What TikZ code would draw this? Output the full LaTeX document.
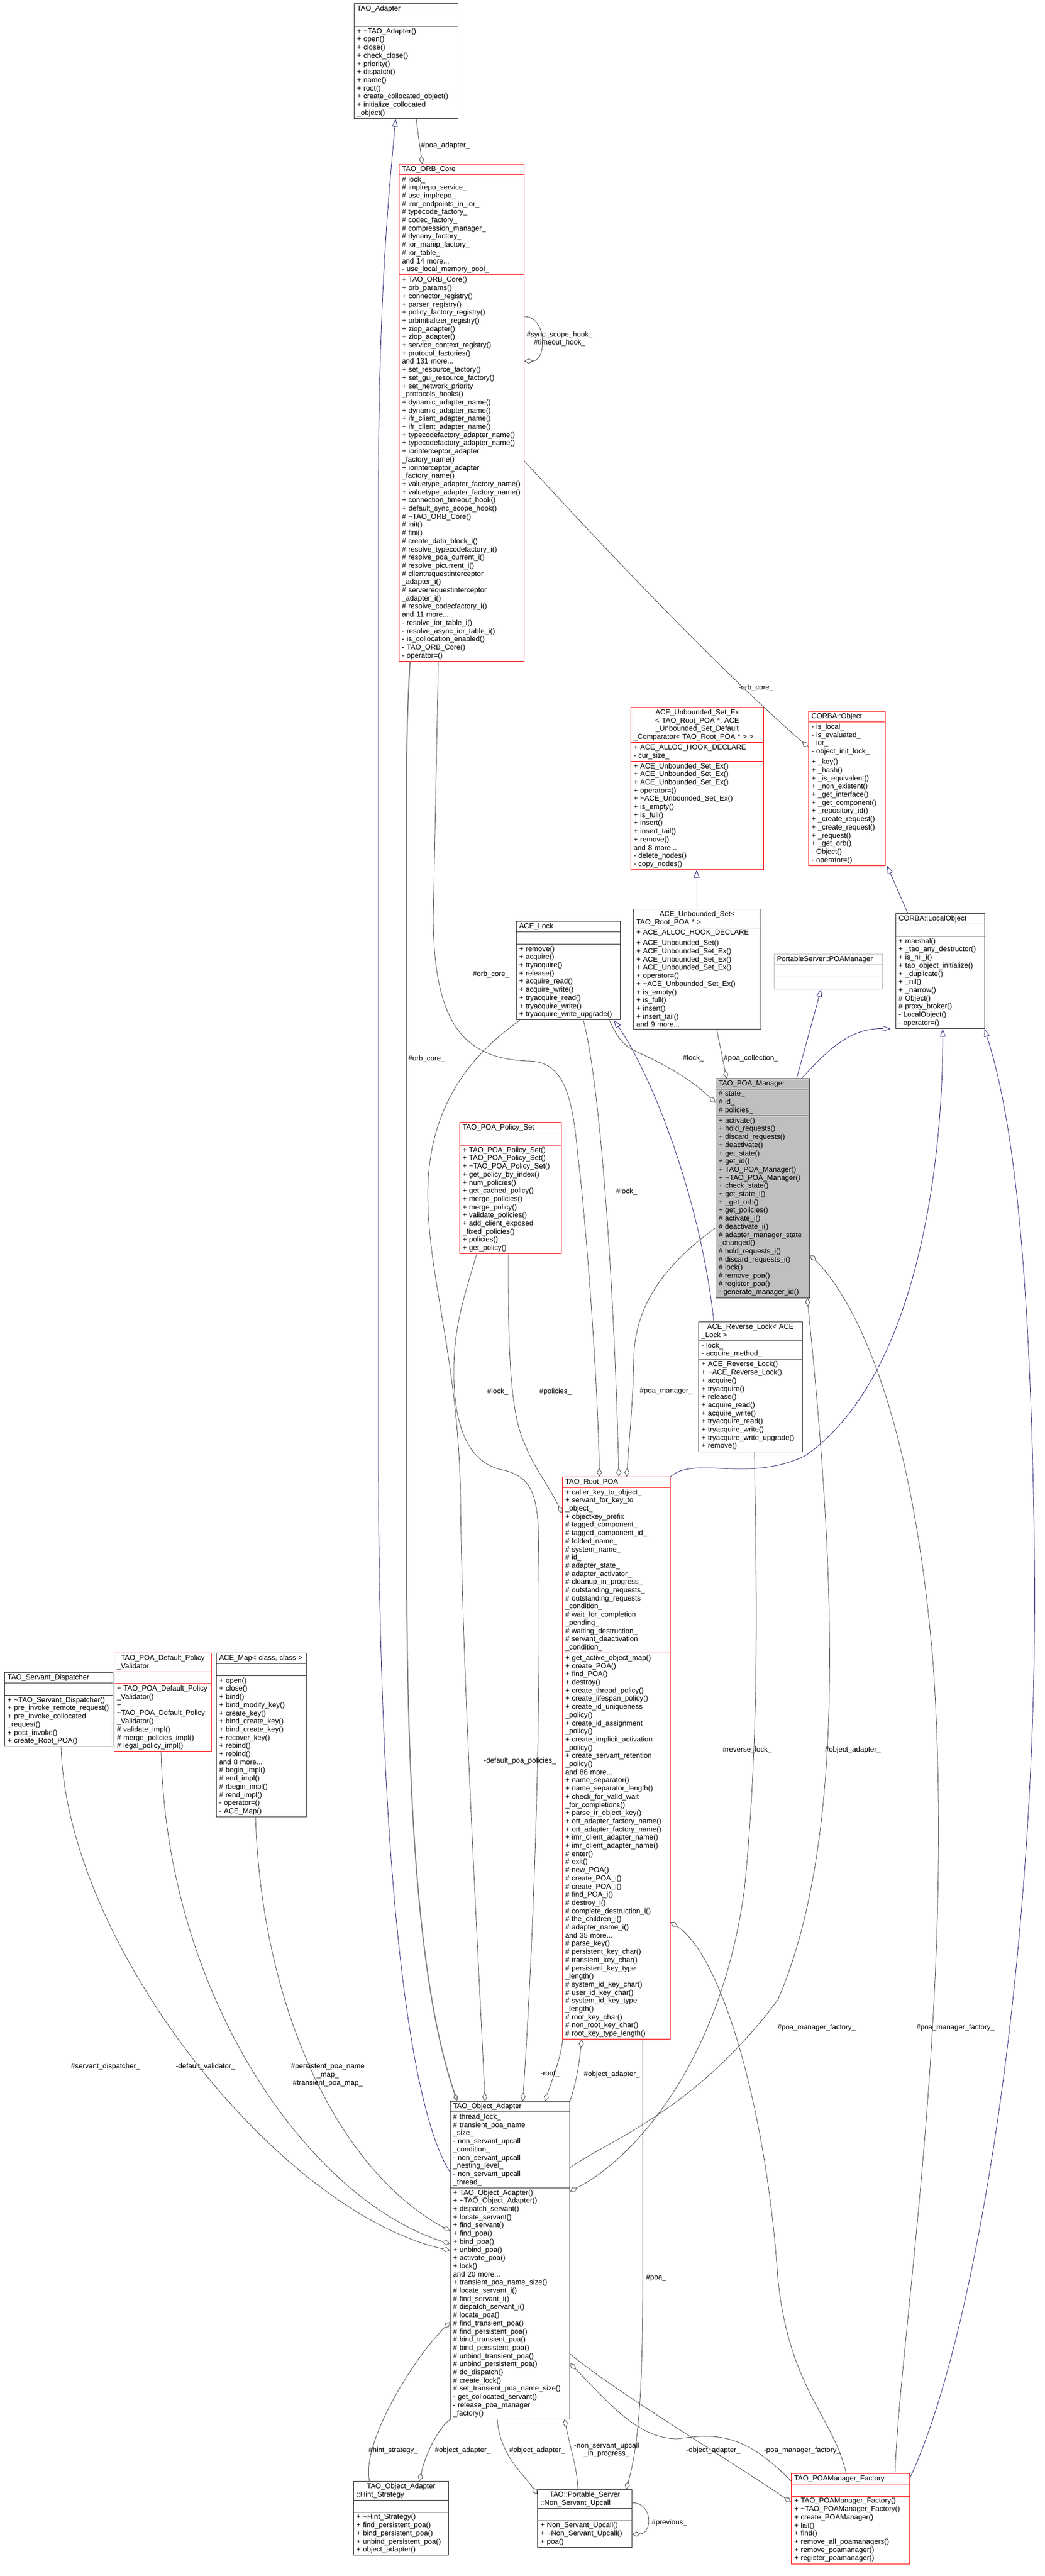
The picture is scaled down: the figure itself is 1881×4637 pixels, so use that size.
\documentclass[tikz,border=0pt]{standalone}
\usepackage{fontspec}
\setmainfont{Liberation Sans}
\usetikzlibrary{arrows.meta, shapes.multipart, positioning}
\definecolor{inhblue}{RGB}{25,25,112}
\definecolor{agggray}{RGB}{64,64,64}
\definecolor{boxred}{RGB}{255,0,0}
\definecolor{mgrgray}{RGB}{191,191,191}
\newcommand{\dfont}{\fontsize{13}{14.7}\selectfont}
\newcommand{\dtor}{\textasciitilde}
\tikzset{
  cls/.style={rectangle split, rectangle split parts=3, draw=black!80, line width=1pt,
    text width=#1, inner xsep=5pt, inner ysep=3pt, anchor=north west, font=\dfont, align=left},
  redcls/.style={cls=#1, draw=boxred},
  inh/.style={draw=inhblue, line width=0.8pt, -{Triangle[open,length=14pt,width=10pt]}},
  agg/.style={draw=agggray, line width=0.8pt, {Diamond[open,length=15pt,width=9pt]}-},
  thickagg/.style={agg, line width=2pt, draw=gray},
  lbl/.style={font=\dfont, align=center, inner sep=1pt}
}
\begin{document}
\catcode`\_=12
\begin{tikzpicture}[x=1pt,y=-1pt]
\useasboundingbox (0,0) rectangle (1881,4637);

% classes, top part
\node[cls=177pt] (adapter) at (637,6) {\centering TAO_Adapter
  \nodepart{two}\strut
  \nodepart{three}+ \dtor TAO_Adapter()\\+ open()\\+ close()\\+ check_close()\\+ priority()\\+ dispatch()\\+ name()\\+ root()\\+ create_collocated_object()\\+ initialize_collocated\\_object()};

\node[redcls=215pt] (orbcore) at (718,295) {\centering TAO_ORB_Core
  \nodepart{two}\# lock_\\\# implrepo_service_\\\# use_implrepo_\\\# imr_endpoints_in_ior_\\\# typecode_factory_\\\# codec_factory_\\\# compression_manager_\\\# dynany_factory_\\\# ior_manip_factory_\\\# ior_table_\\and 14 more...\\- use_local_memory_pool_
  \nodepart{three}+ TAO_ORB_Core()\\+ orb_params()\\+ connector_registry()\\+ parser_registry()\\+ policy_factory_registry()\\+ orbinitializer_registry()\\+ ziop_adapter()\\+ ziop_adapter()\\+ service_context_registry()\\+ protocol_factories()\\and 131 more...\\+ set_resource_factory()\\+ set_gui_resource_factory()\\+ set_network_priority\\_protocols_hooks()\\+ dynamic_adapter_name()\\+ dynamic_adapter_name()\\+ ifr_client_adapter_name()\\+ ifr_client_adapter_name()\\+ typecodefactory_adapter_name()\\+ typecodefactory_adapter_name()\\+ iorinterceptor_adapter\\_factory_name()\\+ iorinterceptor_adapter\\_factory_name()\\+ valuetype_adapter_factory_name()\\+ valuetype_adapter_factory_name()\\+ connection_timeout_hook()\\+ default_sync_scope_hook()\\\# \dtor TAO_ORB_Core()\\\# init()\\\# fini()\\\# create_data_block_i()\\\# resolve_typecodefactory_i()\\\# resolve_poa_current_i()\\\# resolve_picurrent_i()\\\# clientrequestinterceptor\\_adapter_i()\\\# serverrequestinterceptor\\_adapter_i()\\\# resolve_codecfactory_i()\\and 11 more...\\- resolve_ior_table_i()\\- resolve_async_ior_table_i()\\- is_collocation_enabled()\\- TAO_ORB_Core()\\- operator=()};

\node[redcls=229pt] (setex) at (1135,1273) {\centering ACE_Unbounded_Set_Ex\\< TAO_Root_POA *, ACE\\_Unbounded_Set_Default\\_Comparator< TAO_Root_POA * > >
  \nodepart{two}+ ACE_ALLOC_HOOK_DECLARE\\- cur_size_
  \nodepart{three}+ ACE_Unbounded_Set_Ex()\\+ ACE_Unbounded_Set_Ex()\\+ ACE_Unbounded_Set_Ex()\\+ operator=()\\+ \dtor ACE_Unbounded_Set_Ex()\\+ is_empty()\\+ is_full()\\+ insert()\\+ insert_tail()\\+ remove()\\and 8 more...\\- delete_nodes()\\- copy_nodes()};

\node[cls=219pt] (aceset) at (1140,1636) {\centering ACE_Unbounded_Set<\\ TAO_Root_POA * >
  \nodepart{two}+ ACE_ALLOC_HOOK_DECLARE
  \nodepart{three}+ ACE_Unbounded_Set()\\+ ACE_Unbounded_Set_Ex()\\+ ACE_Unbounded_Set_Ex()\\+ ACE_Unbounded_Set_Ex()\\+ operator=()\\+ \dtor ACE_Unbounded_Set_Ex()\\+ is_empty()\\+ is_full()\\+ insert()\\+ insert_tail()\\and 9 more...};

\node[redcls=128pt] (corbaobj) at (1455,1280) {\centering CORBA::Object
  \nodepart{two}- is_local_\\- is_evaluated_\\- ior_\\- object_init_lock_
  \nodepart{three}+ _key()\\+ _hash()\\+ _is_equivalent()\\+ _non_existent()\\+ _get_interface()\\+ _get_component()\\+ _repository_id()\\+ _create_request()\\+ _create_request()\\+ _request()\\+ _get_orb()\\- Object()\\- operator=()};

\node[cls=150pt] (localobj) at (1612,1644) {\centering CORBA::LocalObject
  \nodepart{two}\strut
  \nodepart{three}+ marshal()\\+ _tao_any_destructor()\\+ is_nil_i()\\+ tao_object_initialize()\\+ _duplicate()\\+ _nil()\\+ _narrow()\\\# Object()\\\# proxy_broker()\\- LocalObject()\\- operator=()};

\node[cls=185pt, draw=mgrgray] (poamgrif) at (1393,1717) {\centering PortableServer::POAManager
  \nodepart{two}\strut
  \nodepart{three}\strut};

\node[cls=159pt, fill=mgrgray] (poamgr) at (1288,1941) {\centering TAO_POA_Manager
  \nodepart{two}\# state_\\\# id_\\\# policies_
  \nodepart{three}+ activate()\\+ hold_requests()\\+ discard_requests()\\+ deactivate()\\+ get_state()\\+ get_id()\\+ TAO_POA_Manager()\\+ \dtor TAO_POA_Manager()\\+ check_state()\\+ get_state_i()\\+ _get_orb()\\+ get_policies()\\\# activate_i()\\\# deactivate_i()\\\# adapter_manager_state\\_changed()\\\# hold_requests_i()\\\# discard_requests_i()\\\# lock()\\\# remove_poa()\\\# register_poa()\\- generate_manager_id()};

\node[cls=177pt] (acelock) at (929,1658) {\centering ACE_Lock
  \nodepart{two}\strut
  \nodepart{three}+ remove()\\+ acquire()\\+ tryacquire()\\+ release()\\+ acquire_read()\\+ acquire_write()\\+ tryacquire_read()\\+ tryacquire_write()\\+ tryacquire_write_upgrade()};

\node[redcls=173pt] (policyset) at (827,2020) {\centering TAO_POA_Policy_Set
  \nodepart{two}\strut
  \nodepart{three}+ TAO_POA_Policy_Set()\\+ TAO_POA_Policy_Set()\\+ \dtor TAO_POA_Policy_Set()\\+ get_policy_by_index()\\+ num_policies()\\+ get_cached_policy()\\+ merge_policies()\\+ merge_policy()\\+ validate_policies()\\+ add_client_exposed\\_fixed_policies()\\+ policies()\\+ get_policy()};

\node[cls=177pt] (revlock) at (1257,2379) {\centering ACE_Reverse_Lock< ACE\\_Lock >
  \nodepart{two}- lock_\\- acquire_method_
  \nodepart{three}+ ACE_Reverse_Lock()\\+ \dtor ACE_Reverse_Lock()\\+ acquire()\\+ tryacquire()\\+ release()\\+ acquire_read()\\+ acquire_write()\\+ tryacquire_read()\\+ tryacquire_write()\\+ tryacquire_write_upgrade()\\+ remove()};

\node[redcls=184pt] (rootpoa) at (1012,2658) {\centering TAO_Root_POA
  \nodepart{two}+ caller_key_to_object_\\+ servant_for_key_to\\_object_\\+ objectkey_prefix\\\# tagged_component_\\\# tagged_component_id_\\\# folded_name_\\\# system_name_\\\# id_\\\# adapter_state_\\\# adapter_activator_\\\# cleanup_in_progress_\\\# outstanding_requests_\\\# outstanding_requests\\_condition_\\\# wait_for_completion\\_pending_\\\# waiting_destruction_\\\# servant_deactivation\\_condition_
  \nodepart{three}+ get_active_object_map()\\+ create_POA()\\+ find_POA()\\+ destroy()\\+ create_thread_policy()\\+ create_lifespan_policy()\\+ create_id_uniqueness\\_policy()\\+ create_id_assignment\\_policy()\\+ create_implicit_activation\\_policy()\\+ create_servant_retention\\_policy()\\and 86 more...\\+ name_separator()\\+ name_separator_length()\\+ check_for_valid_wait\\_for_completions()\\+ parse_ir_object_key()\\+ ort_adapter_factory_name()\\+ ort_adapter_factory_name()\\+ imr_client_adapter_name()\\+ imr_client_adapter_name()\\\# enter()\\\# exit()\\\# new_POA()\\\# create_POA_i()\\\# create_POA_i()\\\# find_POA_i()\\\# destroy_i()\\\# complete_destruction_i()\\\# the_children_i()\\\# adapter_name_i()\\and 35 more...\\\# parse_key()\\\# persistent_key_char()\\\# transient_key_char()\\\# persistent_key_type\\_length()\\\# system_id_key_char()\\\# user_id_key_char()\\\# system_id_key_type\\_length()\\\# root_key_char()\\\# non_root_key_char()\\\# root_key_type_length()};

% classes, left column
\node[cls=185pt] (dispatcher) at (8,3010) {\centering TAO_Servant_Dispatcher
  \nodepart{two}\strut
  \nodepart{three}+ \dtor TAO_Servant_Dispatcher()\\+ pre_invoke_remote_request()\\+ pre_invoke_collocated\\_request()\\+ post_invoke()\\+ create_Root_POA()};

\node[redcls=165pt] (validator) at (205,2975) {\centering TAO_POA_Default_Policy\\_Validator
  \nodepart{two}\strut
  \nodepart{three}+ TAO_POA_Default_Policy\\_Validator()\\+ \dtor TAO_POA_Default_Policy\\_Validator()\\\# validate_impl()\\\# merge_policies_impl()\\\# legal_policy_impl()};

\node[cls=152pt] (acemap) at (389,2975) {\centering ACE_Map< class, class >
  \nodepart{two}\strut
  \nodepart{three}+ open()\\+ close()\\+ bind()\\+ bind_modify_key()\\+ create_key()\\+ bind_create_key()\\+ bind_create_key()\\+ recover_key()\\+ rebind()\\+ rebind()\\and 8 more...\\\# begin_impl()\\\# end_impl()\\\# rbegin_impl()\\\# rend_impl()\\- operator=()\\- ACE_Map()};

% classes, bottom part
\node[cls=205pt] (objadapter) at (810,3782) {\centering TAO_Object_Adapter
  \nodepart{two}\# thread_lock_\\\# transient_poa_name\\_size_\\- non_servant_upcall\\_condition_\\- non_servant_upcall\\_nesting_level_\\- non_servant_upcall\\_thread_
  \nodepart{three}+ TAO_Object_Adapter()\\+ \dtor TAO_Object_Adapter()\\+ dispatch_servant()\\+ locate_servant()\\+ find_servant()\\+ find_poa()\\+ bind_poa()\\+ unbind_poa()\\+ activate_poa()\\+ lock()\\and 20 more...\\+ transient_poa_name_size()\\\# locate_servant_i()\\\# find_servant_i()\\\# dispatch_servant_i()\\\# locate_poa()\\\# find_transient_poa()\\\# find_persistent_poa()\\\# bind_transient_poa()\\\# bind_persistent_poa()\\\# unbind_transient_poa()\\\# unbind_persistent_poa()\\\# do_dispatch()\\\# create_lock()\\\# set_transient_poa_name_size()\\- get_collocated_servant()\\- release_poa_manager\\_factory()};

\node[cls=161pt] (hint) at (636,4466) {\centering TAO_Object_Adapter\\::Hint_Strategy
  \nodepart{two}\strut
  \nodepart{three}+ \dtor Hint_Strategy()\\+ find_persistent_poa()\\+ bind_persistent_poa()\\+ unbind_persistent_poa()\\+ object_adapter()};

\node[cls=160pt] (nsupcall) at (967,4481) {\centering TAO::Portable_Server\\::Non_Servant_Upcall
  \nodepart{two}\strut
  \nodepart{three}+ Non_Servant_Upcall()\\+ \dtor Non_Servant_Upcall()\\+ poa()};

\node[redcls=203pt] (factory) at (1424,4452) {\centering TAO_POAManager_Factory
  \nodepart{two}\strut
  \nodepart{three}+ TAO_POAManager_Factory()\\+ \dtor TAO_POAManager_Factory()\\+ create_POAManager()\\+ list()\\+ find()\\+ remove_all_poamanagers()\\+ remove_poamanager()\\+ register_poamanager()};

% inheritance
\draw[inh] (objadapter.west |- 0,3910) .. controls (740,3800) and (681,3400) .. (681,2600) -- (681,900) .. controls (681,500) and (705,300) .. (712,0 |- adapter.south);
\draw[inh] (1254,0 |- aceset.north) -- (1254,0 |- setex.south);
\draw[inh] (1634,0 |- localobj.north) -- (1597,0 |- corbaobj.south);
\draw[inh] (1434,0 |- poamgr.north) -- (1478,0 |- poamgrif.south);
\draw[inh] (1443,0 |- poamgr.north) .. controls (1490,1890) and (1530,1850) .. (1603,0 |- localobj.south);
\draw[inh] (1285,0 |- revlock.north) .. controls (1260,2150) and (1170,1930) .. (1105,0 |- acelock.south);
\draw[inh] (rootpoa.north east) .. controls (1250,2620) and (1350,2670) .. (1450,2620) .. controls (1650,2480) and (1697,2100) .. (1697,0 |- localobj.south);
\draw[inh] (factory.east |- 0,4460) .. controls (1760,4200) and (1870,3500) .. (1862,2800) .. controls (1855,2250) and (1820,2000) .. (1772,0 |- localobj.south);

% aggregation
\draw[agg] (760,0 |- orbcore.north) -- (749,0 |- adapter.south);
\node[lbl, anchor=west] (lpoaadapter) at (757,262) {\#poa_adapter_};
\draw[agg] (orbcore.east |- 0,650) .. controls (985,650) and (985,570) .. (orbcore.east |- 0,570);
\node[lbl, anchor=west] (lhooks) at (947,610) {\#sync_scope_hook_\\\#timeout_hook_};
\draw[agg] (corbaobj.west |- 0,1345) .. controls (1300,1210) and (1100,1000) .. (orbcore.east |- 0,830);
\node[lbl] (lorbcoreobj) at (1361,1238) {-orb_core_};
\draw[thickagg] (823,0 |- objadapter.north) .. controls (760,3600) and (732,3300) .. (732,2800) -- (732,1400) .. controls (732,1300) and (735,1250) .. (738,0 |- orbcore.south);
\node[lbl] (lorbcoreoa) at (768,1906) {\#orb_core_};
\draw[agg] (1079,0 |- rootpoa.north) .. controls (1075,2450) and (1050,2150) .. (1040,2080) .. controls (1030,1960) and (1010,1910) .. (950,1910) .. controls (840,1905) and (780,1850) .. (780,1650) -- (789,0 |- orbcore.south);
\node[lbl] (lorbcorerp) at (884,1754) {\#orb_core_};
\draw[agg] (1114,0 |- rootpoa.north) .. controls (1105,2300) and (1080,1950) .. (1050,0 |- acelock.south);
\node[lbl] (llockrp) at (1128,2145) {\#lock_};
\draw[agg] (1128,0 |- rootpoa.north) .. controls (1135,2560) and (1140,2510) .. (1141,2440) .. controls (1145,2330) and (1220,2260) .. (poamgr.west |- 0,2210);
\node[lbl] (lpoamgr) at (1199,2504) {\#poa_manager_};
\draw[agg] (rootpoa.west |- 0,2724) .. controls (985,2670) and (960,2640) .. (945,2600) .. controls (915,2540) and (915,2400) .. (915,0 |- policyset.south);
\node[lbl] (lpolicies) at (1000,2505) {\#policies_};
\draw[agg] (873,0 |- objadapter.north) .. controls (860,3500) and (832,3000) .. (829,2700) .. controls (826,2450) and (770,2300) .. (770,2150) .. controls (770,1980) and (860,1890) .. (936,0 |- acelock.south);
\node[lbl] (llockoa) at (896,2505) {\#lock_};
\draw[agg] (941,0 |- objadapter.north) .. controls (960,3500) and (975,3100) .. (969,2750) .. controls (965,2680) and (950,2655) .. (900,2645) .. controls (840,2630) and (815,2560) .. (817,2460) .. controls (818,2380) and (840,2320) .. (858,0 |- policyset.south);
\node[lbl] (ldefpol) at (936,3170) {-default_poa_policies_};
\draw[agg] (1308,0 |- poamgr.north) -- (1290,0 |- aceset.south);
\node[lbl] (lpoacoll) at (1352,1905) {\#poa_collection_};
\draw[agg] (poamgr.west |- 0,1985) .. controls (1230,1930) and (1170,1905) .. (1140,1890) .. controls (1120,1880) and (1110,1865) .. (1097,0 |- acelock.south);
\node[lbl] (llockmgr) at (1248,1905) {\#lock_};
\draw[agg] (981,0 |- objadapter.north) .. controls (995,3740) and (1008,3710) .. (1013,0 |- rootpoa.south);
\node[lbl] (lroot) at (990,3734) {-root_};
\draw[agg] (1047,0 |- rootpoa.south) .. controls (1040,3740) and (1030,3770) .. (objadapter.north east);
\node[lbl, anchor=west] (loarp) at (1050,3734) {\#object_adapter_};
\draw[agg] (1453,0 |- poamgr.south) .. controls (1500,2800) and (1530,3300) .. (1400,3600) .. controls (1250,3800) and (1100,3850) .. (objadapter.east |- 0,3902);
\node[lbl] (loamgr) at (1535,3150) {\#object_adapter_};
\draw[agg] (objadapter.east |- 0,3945) .. controls (1150,3880) and (1300,3700) .. (1340,3400) .. controls (1370,3100) and (1360,2800) .. (1358,0 |- revlock.south);
\node[lbl] (lrevlock) at (1345,3150) {\#reverse_lock_};
\draw[agg] (poamgr.east |- 0,2259) .. controls (1520,2320) and (1640,2500) .. (1680,3000) .. controls (1720,3600) and (1620,4200) .. (1611,0 |- factory.north);
\node[lbl] (lfacmgr) at (1720,3650) {\#poa_manager_factory_};
\draw[agg] (rootpoa.east |- 0,3460) .. controls (1300,3520) and (1380,3800) .. (1400,4100) .. controls (1420,4300) and (1500,4350) .. (1523,0 |- factory.north);
\node[lbl] (lfacrp) at (1470,3650) {\#poa_manager_factory_};
\draw[agg] (1127,0 |- nsupcall.north) .. controls (1150,4400) and (1157,4300) .. (1157,4100) -- (1157,0 |- rootpoa.south);
\node[lbl, anchor=west] (lpoa) at (1162,4100) {\#poa_};
\draw[agg] (nsupcall.east |- 0,4562) .. controls (1175,4560) and (1175,4505) .. (nsupcall.east |- 0,4505);
\node[lbl, anchor=west] (lprevious) at (1172,4541) {\#previous_};

% aggregation around the object adapter
\draw[agg] (755,0 |- hint.north) .. controls (770,4400) and (805,4350) .. (815,0 |- objadapter.south);
\node[lbl] (loahint) at (833,4411) {\#object_adapter_};
\draw[agg] (objadapter.west |- 0,4180) .. controls (740,4250) and (650,4400) .. (665,0 |- hint.north);
\node[lbl] (lhint) at (708,4411) {\#hint_strategy_};
\draw[agg] (nsupcall.west |- 0,4490) .. controls (940,4450) and (900,4420) .. (895,0 |- objadapter.south);
\node[lbl] (loans) at (967,4411) {\#object_adapter_};
\draw[agg] (1016,0 |- objadapter.south) .. controls (1030,4420) and (1040,4450) .. (1040,0 |- nsupcall.north);
\node[lbl] (lnsup) at (1092,4410) {-non_servant_upcall\\_in_progress_};
\draw[agg] (factory.west |- 0,4504) .. controls (1300,4420) and (1100,4300) .. (objadapter.east |- 0,4237);
\node[lbl] (loafac) at (1284,4411) {-object_adapter_};
\draw[agg] (objadapter.east |- 0,4254) .. controls (1100,4330) and (1150,4390) .. (1220,4390) .. controls (1290,4380) and (1340,4380) .. (factory.west |- 0,4466);
\node[lbl] (lfacoa) at (1444,4411) {-poa_manager_factory_};
\draw[agg] (objadapter.west |- 0,4051) .. controls (500,3980) and (120,3500) .. (110,0 |- dispatcher.south);
\node[lbl] (ldispatch) at (190,3720) {\#servant_dispatcher_};
\draw[agg] (objadapter.west |- 0,4039) .. controls (560,3960) and (300,3600) .. (290,0 |- validator.south);
\node[lbl] (lvalid) at (370,3720) {-default_validator_};
\draw[agg] (objadapter.west |- 0,4016) .. controls (600,3900) and (470,3600) .. (460,0 |- acemap.south);
\node[lbl] (lmap) at (590,3735) {\#persistent_poa_name\\_map_\\\#transient_poa_map_};
\end{tikzpicture}
\end{document}
